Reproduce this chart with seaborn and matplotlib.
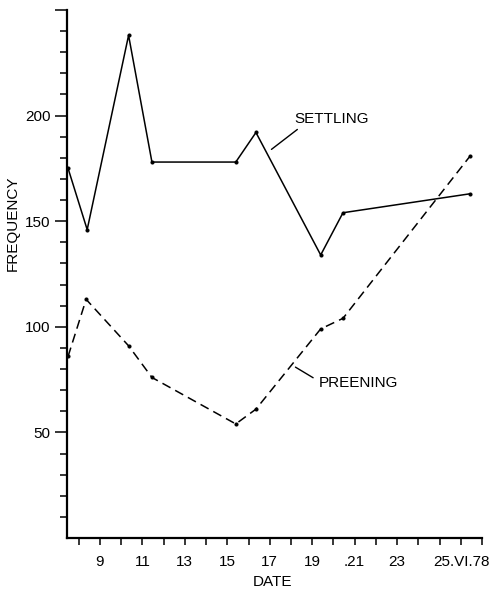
import matplotlib
matplotlib.use("Agg")
import matplotlib.pyplot as plt
import matplotlib.transforms as mtransforms
import seaborn as sns

# data (day of June 1978)
settling_dates = [7.5, 8.4, 10.35, 11.45, 15.4, 16.35, 19.4, 20.45, 26.45]
settling = [175, 146, 238, 178, 178, 192, 134, 154, 163]

preening_dates = [7.5, 8.35, 10.35, 11.45, 15.4, 16.35, 19.4, 20.45, 26.45]
preening = [86, 113, 91, 76, 54, 61, 99, 104, 181]

x_major = [9, 11, 13, 15, 17, 19, 21, 23, 25]
x_labels = ["9", "11", "13", "15", "17", "19", ".21", "23", "25.VI.78"]
y_major = [50, 100, 150, 200, 250]
y_labels = ["50", "100", "150", "200", ""]

sns.set_style("ticks", {"axes.edgecolor": "black", "text.color": "black",
                        "xtick.color": "black", "ytick.color": "black",
                        "axes.labelcolor": "black"})
plt.rcParams['font.family'] = ['Liberation Sans', 'DejaVu Sans']

fig = plt.figure(figsize=(4.99, 5.91), dpi=100)
ax = fig.add_axes([0.1343, 0.0897, 0.8317, 0.8934])

sns.lineplot(x=settling_dates, y=settling, color='black', linewidth=1.1,
             marker='o', markersize=2.2, markeredgecolor='black', ax=ax)
sns.lineplot(x=preening_dates, y=preening, color='black', linewidth=1.1,
             linestyle=(0, (6, 3.5)), marker='o', markersize=2.2,
             markeredgecolor='black', ax=ax)

ax.set_xlim(7.45, 27)
ax.set_ylim(0, 250)
sns.despine(ax=ax)
for s in ['left', 'bottom']:
    ax.spines[s].set_linewidth(1.6)

ax.set_xticks(x_major)
ax.set_xticklabels(x_labels, fontsize=11)
ax.set_xticks(range(8, 28), minor=True)
ax.set_yticks(y_major)
ax.set_yticklabels(y_labels, fontsize=11)
ax.set_yticks(range(10, 250, 10), minor=True)
ax.tick_params(axis='x', which='both', length=5, width=1.1, pad=7, direction='out')
ax.tick_params(axis='y', which='major', length=9, width=1.1, pad=3)
ax.tick_params(axis='y', which='minor', length=5, width=1.1)

# long last label starts at its tick
last = ax.get_xticklabels()[-1]
last.set_horizontalalignment('left')
last.set_transform(last.get_transform() +
                   mtransforms.ScaledTranslation(-6 / 100, 0, fig.dpi_scale_trans))

ax.set_xlabel("DATE", fontsize=11)
ax.xaxis.set_label_coords(0.496, -0.071)
ax.set_ylabel("FREQUENCY", fontsize=11)
ax.yaxis.set_label_coords(-0.113, 0.597)

ax.annotate("SETTLING", xy=(17.08, 184), xytext=(18.15, 198.3),
            fontsize=11, va='center', ha='left',
            arrowprops=dict(arrowstyle='-', color='black', lw=1.0,
                            shrinkA=0, shrinkB=0, relpos=(0.1, 0)))
ax.annotate("PREENING", xy=(18.21, 80.9), xytext=(19.31, 73.6),
            fontsize=11, va='center', ha='left',
            arrowprops=dict(arrowstyle='-', color='black', lw=1.0,
                            shrinkA=2, shrinkB=0, relpos=(0, 0.6)))

fig.savefig("out.png", dpi=100)
